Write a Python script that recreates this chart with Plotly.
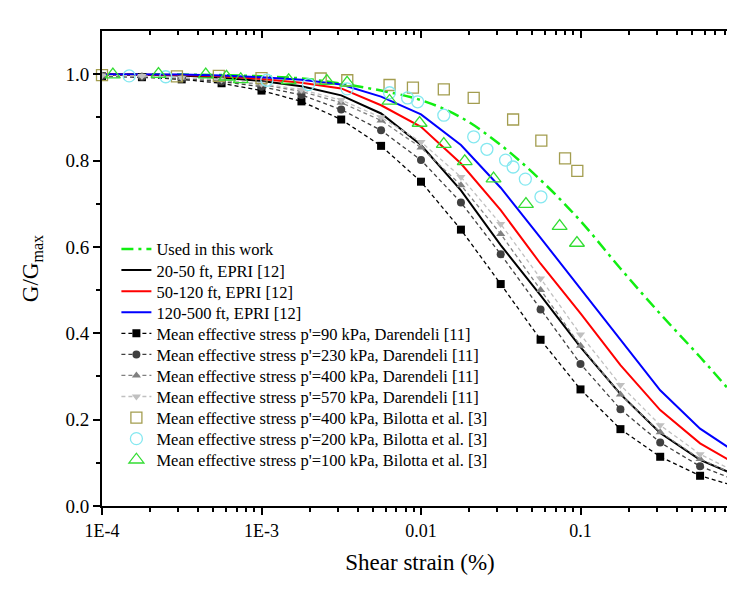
import plotly.graph_objects as go

# strains (%) used for the Darendeli / EPRI curves
strain = [0.0001, 0.000178, 0.000316, 0.000562, 0.001, 0.00178, 0.00316, 0.00562,
          0.01, 0.0178, 0.0316, 0.0562, 0.1, 0.178, 0.316, 0.562, 1.0]

used_this_work = [1.0, 1.0, 0.999, 0.998, 0.995, 0.99, 0.978, 0.962, 0.94, 0.9, 0.836,
                  0.755, 0.66, 0.55, 0.445, 0.345, 0.24]

epri_20_50 = [1.0, 0.999, 0.997, 0.992, 0.984, 0.972, 0.951, 0.909, 0.836, 0.731, 0.604,
              0.488, 0.368, 0.259, 0.169, 0.107, 0.067]
epri_50_120 = [1.0, 0.999, 0.998, 0.995, 0.989, 0.98, 0.967, 0.928, 0.878, 0.793, 0.685,
               0.561, 0.446, 0.326, 0.222, 0.145, 0.092]
epri_120_500 = [1.0, 1.0, 0.999, 0.997, 0.993, 0.987, 0.976, 0.948, 0.907, 0.836, 0.737,
                0.621, 0.503, 0.383, 0.268, 0.179, 0.118]

dar_90 = [0.995, 0.993, 0.988, 0.979, 0.962, 0.937, 0.895, 0.834, 0.751, 0.64, 0.514,
          0.385, 0.27, 0.178, 0.114, 0.07, 0.043]
dar_230 = [0.996, 0.994, 0.99, 0.983, 0.971, 0.952, 0.918, 0.87, 0.801, 0.703, 0.583,
           0.455, 0.329, 0.224, 0.147, 0.092, 0.056]
dar_400 = [0.997, 0.995, 0.991, 0.986, 0.976, 0.96, 0.934, 0.893, 0.83, 0.743, 0.63,
           0.5, 0.371, 0.258, 0.171, 0.109, 0.067]
dar_570 = [0.997, 0.996, 0.992, 0.987, 0.978, 0.964, 0.94, 0.9, 0.843, 0.762, 0.653,
           0.527, 0.397, 0.28, 0.187, 0.12, 0.074]

# Bilotta et al. test points
bil400_x = [0.0001, 0.000295, 0.00054, 0.001, 0.00235, 0.00345, 0.00635, 0.0089, 0.0139,
            0.0214, 0.0378, 0.0568, 0.08, 0.0955]
bil400_y = [0.998, 0.995, 0.996, 0.991, 0.99, 0.986, 0.975, 0.969, 0.965, 0.945, 0.895,
            0.846, 0.805, 0.776]
bil200_x = [0.000148, 0.000251, 0.00108, 0.00197, 0.00344, 0.00635, 0.00824, 0.00953,
            0.0139, 0.0214, 0.0259, 0.0339, 0.0378, 0.0451, 0.0565]
bil200_y = [0.996, 0.994, 0.986, 0.976, 0.966, 0.957, 0.945, 0.936, 0.905, 0.855, 0.826,
            0.801, 0.785, 0.757, 0.716]
bil100_x = [0.000117, 0.000226, 0.000447, 0.000603, 0.000741, 0.00148, 0.00257, 0.00344,
            0.00635, 0.0098, 0.0139, 0.0188, 0.0285, 0.0455, 0.074, 0.095]
bil100_y = [0.999, 1.0, 0.999, 0.994, 0.988, 0.986, 0.984, 0.98, 0.938, 0.887, 0.838,
            0.798, 0.758, 0.699, 0.648, 0.609]

font = "Liberation Serif, Times New Roman, serif"

# page body has an 8px margin, so the figure is sized to fill the rest
W, H = 730, 589
ML, MT, MB = 94, 23, 91
plot_w = W - ML
plot_h = H - MT - MB

traces = []
traces.append(go.Scatter(x=strain, y=used_this_work, mode="lines", line_shape="spline",
                         name="Used in this work",
                         line=dict(color="#11ee11", width=2.5, dash="12px,5px,3px,5px")))
traces.append(go.Scatter(x=strain, y=epri_20_50, mode="lines", name="20-50 ft, EPRI [12]",
                         line=dict(color="black", width=2)))
traces.append(go.Scatter(x=strain, y=epri_50_120, mode="lines", name="50-120 ft, EPRI [12]",
                         line=dict(color="#ff0000", width=2)))
traces.append(go.Scatter(x=strain, y=epri_120_500, mode="lines", name="120-500 ft, EPRI [12]",
                         line=dict(color="#0000ff", width=2)))

dar = [(dar_90, "90", "black", "square"),
       (dar_230, "230", "#404040", "circle"),
       (dar_400, "400", "#808080", "triangle-up"),
       (dar_570, "570", "#c0c0c0", "triangle-down")]
for vals, p, col, sym in dar:
    traces.append(go.Scatter(x=strain, y=vals, mode="lines+markers",
                             name="Mean effective stress p'=%s kPa, Darendeli [11]" % p,
                             line=dict(color=col, width=1.3, dash="4px,3px"),
                             marker=dict(symbol=sym, size=8, color=col)))

bil = [(bil400_x, bil400_y, "400", "#a39d4f", "square-open", 11),
       (bil200_x, bil200_y, "200", "#85e8f0", "circle-open", 12),
       (bil100_x, bil100_y, "100", "#33dd33", "triangle-up-open", 13)]
for xs, ys, p, col, sym, sz in bil:
    traces.append(go.Scatter(x=xs, y=ys, mode="markers", cliponaxis=False,
                             name="Mean effective stress p'=%s kPa, Bilotta et al. [3]" % p,
                             marker=dict(symbol=sym, size=sz, color=col, line=dict(width=1.3))))

fig = go.Figure()
# one legend per row, so the rows can sit closer than plotly's default spacing
legends = {}
row0, row_gap = 249.3 - 8, 21.07
for i, tr in enumerate(traces):
    key = "legend" if i == 0 else "legend%d" % (i + 1)
    tr.legend = key
    fig.add_trace(tr)
    yc = row0 + i * row_gap
    legends[key] = dict(x=(116.4 - 8 - ML) / plot_w, y=(MT + plot_h - yc) / plot_h,
                        xanchor="left", yanchor="middle", bgcolor="rgba(0,0,0,0)",
                        font=dict(size=16.5, family=font))

# empty trace so the mirrored top/right axes get drawn with inward ticks
fig.add_trace(go.Scatter(x=[], y=[], xaxis="x2", yaxis="y2", showlegend=False))

xr = [-4, -4 + plot_w / 159.5]
tick = dict(showgrid=False, showline=True, linecolor="black", linewidth=2, ticklen=7,
            tickwidth=1.5, tickcolor="black", zeroline=False)
xminor = dict(ticklen=4, tickwidth=1.5, tickcolor="black", dtick="D1", showgrid=False)
yminor = dict(ticklen=4, tickwidth=1.5, tickcolor="black", tickvals=[0.1, 0.3, 0.5, 0.7, 0.9],
              showgrid=False)

fig.update_layout(
    width=W, height=H,
    margin=dict(l=ML, r=0, t=MT, b=MB),
    plot_bgcolor="white", paper_bgcolor="white",
    font=dict(family=font, color="black"),
    showlegend=True,
    xaxis=dict(type="log", range=xr, ticks="outside",
               tickvals=[0.0001, 0.001, 0.01, 0.1], ticktext=["1E-4", "1E-3", "0.01", "0.1"],
               tickfont=dict(size=18), minor=dict(ticks="outside", **xminor),
               title=dict(text="Shear strain (%)", font=dict(size=23), standoff=14), **tick),
    yaxis=dict(range=[0, 1.1], ticks="outside",
               tickvals=[0, 0.2, 0.4, 0.6, 0.8, 1.0], tickformat=".1f",
               tickfont=dict(size=19), minor=dict(ticks="outside", **yminor),
               title=dict(text="G/G<sub>max</sub>", font=dict(size=23), standoff=20), **tick),
    xaxis2=dict(type="log", range=xr, overlaying="x", side="top", anchor="y2", ticks="inside",
                tickvals=[0.0001, 0.001, 0.01, 0.1], showticklabels=False,
                minor=dict(ticks="inside", **xminor), **tick),
    yaxis2=dict(range=[0, 1.1], overlaying="y", side="right", anchor="x2", ticks="inside",
                tickvals=[0, 0.2, 0.4, 0.6, 0.8, 1.0], showticklabels=False,
                minor=dict(ticks="inside", **yminor), **tick),
    **legends,
)

fig.write_html("out.html")
